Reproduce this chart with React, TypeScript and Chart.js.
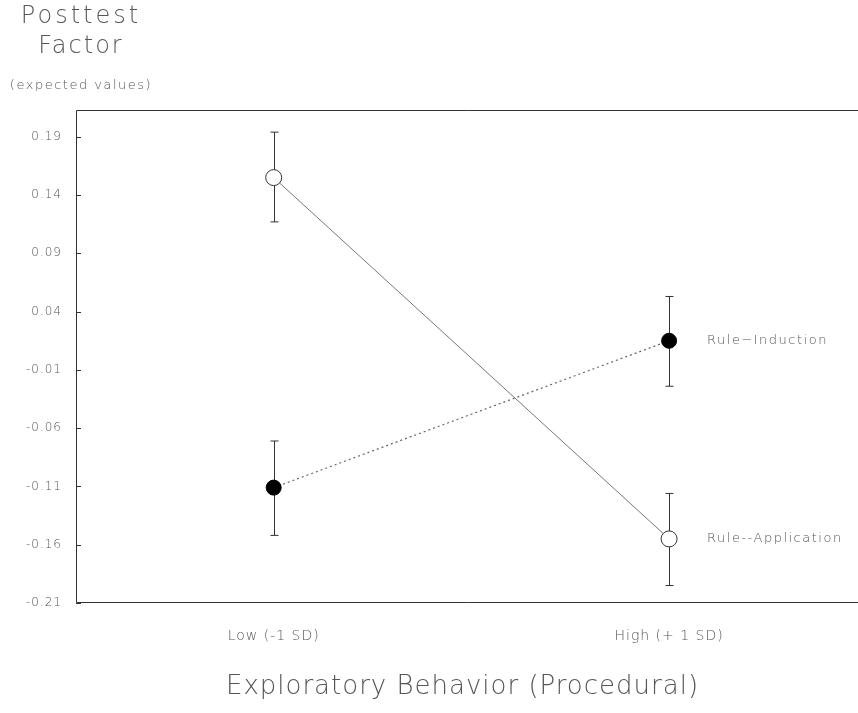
import { useEffect, useRef } from 'react';
import { Chart, registerables } from 'chart.js';

Chart.register(...registerables);

// ---- data ----
const categories = ['Low (-1 SD)', 'High (+ 1 SD)'];
const xPositions = [1, 3];
const yTicks = [-0.21, -0.16, -0.11, -0.06, -0.01, 0.04, 0.09, 0.14, 0.19];

const seriesNames = ['Rule--Application', 'Rule−Induction'];
const ruleApplication = [0.155, -0.155];
const ruleApplicationUpper = [0.194, -0.116];
const ruleApplicationLower = [0.117, -0.195];
const ruleInduction = [-0.111, 0.015];
const ruleInductionUpper = [-0.071, 0.053];
const ruleInductionLower = [-0.152, -0.024];

const yTitleLines = ['Posttest', 'Factor'];
const ySubTitle = '(expected values)';
const xTitle = 'Exploratory Behavior (Procedural)';

const FONT = '"DejaVu Sans", "Liberation Sans", sans-serif';
const TEXT = '#555';

export default function App() {
  const ref = useRef<HTMLCanvasElement>(null);

  useEffect(() => {
    document.body.style.margin = '0';
    document.documentElement.style.overflow = 'hidden';
    const uppers = [ruleApplicationUpper, ruleInductionUpper];
    const lowers = [ruleApplicationLower, ruleInductionLower];

    const setSpacing = (chart: any) => {
      (chart.ctx as any).letterSpacing = '1px';
    };

    const framePlugin = {
      id: 'frame',
      beforeLayout: setSpacing,
      beforeDraw: setSpacing,
      beforeDatasetsDraw(chart: any) {
        const { ctx, chartArea, scales } = chart;
        const ys = scales.y;
        const xs = scales.x;
        const right = chart.width;
        ctx.save();
        ctx.strokeStyle = '#333';
        ctx.lineWidth = 1;
        ctx.beginPath();
        ctx.moveTo(right, chartArea.top + 0.5);
        ctx.lineTo(chartArea.left + 0.5, chartArea.top + 0.5);
        ctx.lineTo(chartArea.left + 0.5, chartArea.bottom - 0.5);
        ctx.lineTo(right, chartArea.bottom - 0.5);
        ctx.stroke();
        // inner ticks
        ctx.beginPath();
        for (const v of yTicks) {
          const y = Math.round(ys.getPixelForValue(v)) + 0.5;
          ctx.moveTo(chartArea.left, y);
          ctx.lineTo(chartArea.left + 5, y);
        }
        ctx.stroke();
        // error bars
        ctx.strokeStyle = '#333';
        ctx.beginPath();
        for (let d = 0; d < uppers.length; d++) {
          for (let j = 0; j < xPositions.length; j++) {
            const x = Math.round(xs.getPixelForValue(xPositions[j])) + 0.5;
            const yu = ys.getPixelForValue(uppers[d][j]);
            const yl = ys.getPixelForValue(lowers[d][j]);
            ctx.moveTo(x, yu);
            ctx.lineTo(x, yl);
            ctx.moveTo(x - 4, yu);
            ctx.lineTo(x + 4, yu);
            ctx.moveTo(x - 4, yl);
            ctx.lineTo(x + 4, yl);
          }
        }
        ctx.stroke();
        ctx.restore();
      },
      afterDraw(chart: any) {
        const { ctx, chartArea, scales } = chart;
        const ys = scales.y;
        const xs = scales.x;
        ctx.save();
        ctx.fillStyle = TEXT;
        ctx.textAlign = 'center';
        ctx.textBaseline = 'middle';
        ctx.letterSpacing = '3px';
        ctx.font = `200 24px ${FONT}`;
        const cx = chartArea.left + 5;
        ctx.fillText(yTitleLines[0], cx, 17);
        ctx.letterSpacing = '2px';
        ctx.fillText(yTitleLines[1], cx, 47);
        ctx.letterSpacing = '1.5px';
        ctx.font = `200 13px ${FONT}`;
        ctx.fillText(ySubTitle, cx, 86);
        // series labels
        ctx.textAlign = 'left';
        ctx.letterSpacing = '1.5px';
        ctx.font = `200 13px ${FONT}`;
        const last = xPositions.length - 1;
        const lx = xs.getPixelForValue(xPositions[last]) + 38;
        ctx.fillText(seriesNames[0], lx, ys.getPixelForValue(ruleApplication[last]));
        ctx.fillText(seriesNames[1], lx, ys.getPixelForValue(ruleInduction[last]));
        ctx.restore();
      },
    };

    const chart = new Chart(ref.current as HTMLCanvasElement, {
      type: 'line',
      data: {
        datasets: [
          {
            label: seriesNames[0],
            data: xPositions.map((x, i) => ({ x, y: ruleApplication[i] })),
            borderColor: '#777',
            borderWidth: 1,
            pointRadius: 8,
            pointBackgroundColor: '#fff',
            pointBorderColor: '#333',
            pointBorderWidth: 1,
          },
          {
            label: seriesNames[1],
            data: xPositions.map((x, i) => ({ x, y: ruleInduction[i] })),
            borderColor: '#666',
            borderWidth: 1.2,
            borderDash: [2, 3],
            pointRadius: 7.5,
            pointBackgroundColor: '#000',
            pointBorderColor: '#000',
            pointBorderWidth: 1,
          },
        ],
      },
      options: {
        animation: false,
        responsive: true,
        maintainAspectRatio: false,
        layout: { padding: { top: 110, right: 0, left: 0, bottom: 0 } },
        plugins: { legend: { display: false }, tooltip: { enabled: false } },
        scales: {
          x: {
            type: 'linear',
            min: 0,
            max: 3.91,
            grid: { display: false },
            border: { display: false },
            afterBuildTicks: (s: any) => {
              s.ticks = xPositions.map((v) => ({ value: v }));
            },
            afterFit: (s: any) => {
              s.height = 110;
            },
            ticks: {
              padding: 17,
              color: TEXT,
              font: { family: FONT, size: 14, weight: 200 },
              maxRotation: 0,
              callback: (v: any) => categories[xPositions.indexOf(Number(v))] ?? '',
            },
            title: {
              display: true,
              text: xTitle,
              color: TEXT,
              font: { family: FONT, size: 26, weight: 200 },
              padding: { top: 0, bottom: 10 },
            },
          },
          y: {
            type: 'linear',
            min: -0.21,
            max: 0.213,
            grid: { display: false },
            border: { display: false },
            afterBuildTicks: (s: any) => {
              s.ticks = yTicks.map((v) => ({ value: v }));
            },
            afterFit: (s: any) => {
              s.width = 76;
            },
            ticks: {
              padding: 6,
              color: TEXT,
              font: { family: FONT, size: 12, weight: 200 },
              callback: (v: any) => Number(v).toFixed(2),
            },
          },
        },
      },
      plugins: [framePlugin],
    } as any);
    return () => chart.destroy();
  }, []);

  return (
    <div style={{ position: 'relative', width: 858, height: 713, overflow: 'hidden' }}>
      <canvas ref={ref} style={{ display: 'block' }} />
    </div>
  );
}
